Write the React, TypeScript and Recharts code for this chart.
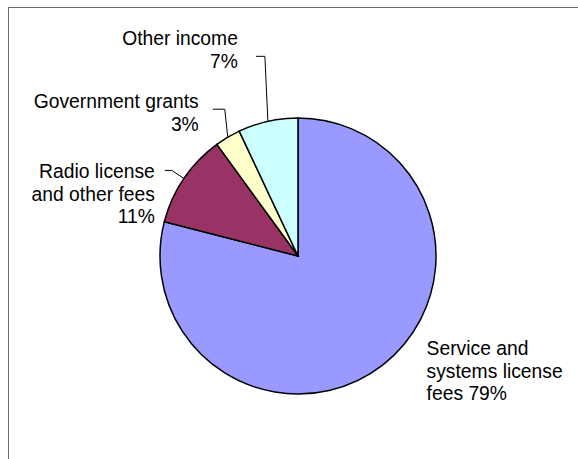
import React from "react";
import { PieChart, Pie, Cell } from "recharts";

const categories = [
  "Service and systems license fees",
  "Radio license and other fees",
  "Government grants",
  "Other income",
];
const shares = [79, 11, 3, 7];
const labelLines = [
  ["Service and", "systems license", "fees 79%"],
  ["Radio license", "and other fees", "11%"],
  ["Government grants", "3%"],
  ["Other income", "7%"],
];
const colors = ["#9999FF", "#993366", "#FFFFCC", "#CCFFFF"];

const data = categories.map((name, i) => ({ name, value: shares[i], lines: labelLines[i] }));

// label placement style relative to the arc point at the slice's mid angle
const labelStyle: Record<number, { leader: [number, number][] | null; anchor: "start" | "end"; tx: number; ty: number }> = {
  0: { leader: null, anchor: "start", tx: 44, ty: -10 },
  1: { leader: [[-12, -8], [-19, -8]], anchor: "end", tx: -29, ty: 0 },
  2: { leader: [[-3, -28], [-15, -28]], anchor: "end", tx: -29, ty: -29 },
  3: { leader: [[-3, -65], [-12, -65]], anchor: "end", tx: -30, ty: -76 },
};

const RAD = Math.PI / 180;

const renderLabel = (props: any) => {
  const { cx, cy, midAngle, outerRadius, index } = props;
  const px = cx + outerRadius * Math.cos(-midAngle * RAD);
  const py = cy + outerRadius * Math.sin(-midAngle * RAD);
  const st = labelStyle[index];
  const lines: string[] = data[index].lines;
  let path = "";
  if (st.leader) {
    path = `M${px},${py}` + st.leader.map(([dx, dy]) => ` L${px + dx},${py + dy}`).join("");
  }
  return (
    <g key={`lbl-${index}`}>
      {path && <path d={path} stroke="#000" strokeWidth={1} fill="none" />}
      <text
        x={px + st.tx}
        y={py + st.ty}
        textAnchor={st.anchor}
        fontFamily="'Liberation Sans', Arial, sans-serif"
        fontSize={19.3}
        fill="#000"
      >
        {lines.map((l, i) => (
          <tspan key={i} x={px + st.tx} dy={i === 0 ? 0 : 22.5}>
            {l}
          </tspan>
        ))}
      </text>
    </g>
  );
};

export default function App() {
  return (
    <div
      style={{
        position: "absolute",
        left: 8,
        top: 7,
        width: 569,
        height: 451,
        borderTop: "1px solid #6f6f6f",
        borderLeft: "1px solid #6f6f6f",
        background: "#fff",
      }}
    >
      <PieChart width={569} height={451} margin={{ top: 0, right: 0, bottom: 0, left: 0 }}>
        <Pie
          data={data}
          dataKey="value"
          nameKey="name"
          cx={289}
          cy={248}
          outerRadius={138}
          startAngle={90}
          endAngle={-270}
          stroke="#000"
          strokeWidth={1.5}
          label={renderLabel}
          labelLine={false}
          isAnimationActive={false}
        >
          {data.map((d, i) => (
            <Cell key={d.name} fill={colors[i]} />
          ))}
        </Pie>
      </PieChart>
    </div>
  );
}
